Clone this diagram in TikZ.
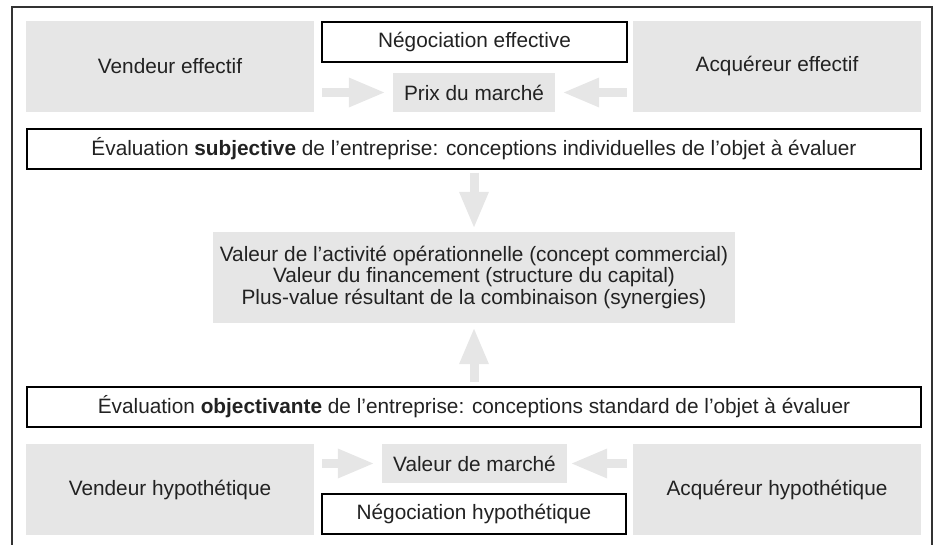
\documentclass[tikz,border=0pt]{standalone}
\usepackage{fontspec}
\setmainfont{Liberation Sans}
\usepackage{tikz}
\usetikzlibrary{arrows.meta,calc,positioning}

\begin{document}
\begin{tikzpicture}[x=1pt,y=-1pt,>=Stealth]
  % Global colours and text style
  \definecolor{boxgray}{HTML}{E6E6E6}
  \definecolor{txt}{HTML}{222222}
  \tikzset{
    party/.style  = {fill=boxgray, text=txt, minimum width=288pt, minimum height=91pt, inner sep=0pt},
    price/.style  = {fill=boxgray, text=txt, minimum height=39pt, inner sep=0pt},
    nego/.style   = {draw, line width=1.2pt, fill=white, text=txt, minimum height=40pt, inner sep=0pt},
    level/.style  = {nego, minimum width=894pt},
    flow/.style   = {draw=boxgray, line width=9pt, -{Triangle[length=37pt,width=27pt]}}
  }
  \fontsize{20.8}{21.5}\selectfont
  \useasboundingbox (0,0) rectangle (940,545);

  % --- Outer frame (open at the bottom) ---
  \draw[line width=1.3pt, draw=black!80] (12,545) |- (932,7) -- (932,545);

  % --- Effective market (top) ---
  \node[party] (vendE) at (170,66.5) {Vendeur effectif};
  \node[party] (acqE)  at (777,66.5) {Acquéreur effectif};
  \node[nego, minimum width=305pt] (negE) at (474.5,42) {Négociation effective};
  \node[price, minimum width=162pt] (prixE) at (474,92.5) {Prix du marché};

  % --- Subjective level ---
  \node[level] (subj) at (474,149)
    {Évaluation \textbf{subjective} de l’entreprise: conceptions individuelles de l’objet à évaluer};

  % --- Value components ---
  \node[fill=boxgray, text=txt, minimum width=522pt, minimum height=91pt, inner sep=0pt, align=center] (comp) at (474,277.5)
    {Valeur de l’activité opérationnelle (concept commercial)\\
     Valeur du financement (structure du capital)\\
     Plus-value résultant de la combinaison (synergies)};

  % --- Objectivising level ---
  \node[level] (obj) at (474,407)
    {Évaluation \textbf{objectivante} de l’entreprise: conceptions standard de l’objet à évaluer};

  % --- Hypothetical market (bottom) ---
  \node[party] (vendH) at (170,489.5) {Vendeur hypothétique};
  \node[party] (acqH)  at (777,489.5) {Acquéreur hypothétique};
  \node[price, minimum width=185pt] (valH) at (474.5,463.5) {Valeur de marché};
  \node[nego, minimum width=304pt] (negH) at (474,514) {Négociation hypothétique};

  % --- Block arrows ---
  \draw[flow, shorten <=8pt, shorten >=7pt] (vendE.east |- prixE.west) -- (prixE.west);
  \draw[flow, shorten <=6pt, shorten >=7pt] (acqE.west |- prixE.east) -- (prixE.east);
  \draw[flow, shorten <=3pt, shorten >=3pt] (subj.south) -- (comp.north);
  \draw[flow, shorten <=4pt, shorten >=4pt] (obj.north) -- (comp.south);
  \draw[flow, shorten <=8pt, shorten >=7pt] (vendH.east |- valH.west) -- (valH.west);
  \draw[flow, shorten <=6pt, shorten >=3pt] (acqH.west |- valH.east) -- (valH.east);
\end{tikzpicture}
\end{document}
